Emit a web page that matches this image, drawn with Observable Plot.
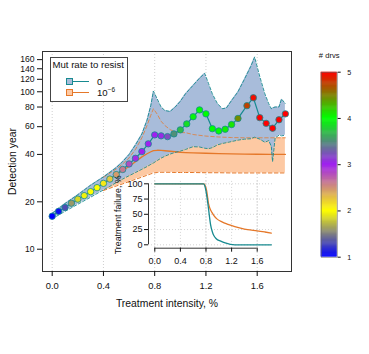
<!DOCTYPE html>
<html><head><meta charset="utf-8">
<script src="https://cdn.jsdelivr.net/npm/d3@7"></script>
<script src="https://cdn.jsdelivr.net/npm/@observablehq/plot@0.6"></script>
<style>
body{margin:0;background:#fff;}
#wrap{position:relative;width:369px;height:354px;font-family:"Liberation Sans",Arial,Helvetica,sans-serif;color:#111;}
#wrap svg{position:absolute;left:0;top:0;}
.a{position:absolute;white-space:nowrap;line-height:12px;}
</style></head><body><div id="wrap"></div>
<script>
// ---------- data ----------
const dotX = [0,0.05,0.1,0.15,0.2,0.25,0.3,0.35,0.4,0.45,0.5,0.55,0.6,0.65,0.7,0.75,0.8,0.85,0.9,0.95,1.0,1.05,1.1,1.15,1.2,1.25,1.3,1.35,1.4,1.45,1.52,1.57,1.62,1.67,1.72,1.77,1.82];
const dotYear = [16.2,17.4,18.4,19.6,20.8,21.9,23.2,24.6,26.2,27.9,29.8,32.1,34.8,37.8,41.7,46.7,53.2,52.5,51.9,54,57.3,62.5,69.4,76.7,72.4,58.3,56.4,57.8,61.9,67.7,81.6,91.6,68.5,63,58.7,66.4,72.4];
const dotDrvs = [1.0,1.05,1.3,1.6,1.85,1.95,2.0,2.0,2.1,2.25,2.45,2.6,2.8,2.95,3.0,3.0,3.0,3.05,3.2,3.5,3.7,3.85,3.95,4.0,4.0,4.0,4.0,4.05,4.1,4.45,4.75,4.95,5,5,5,5,5];

const blueX  = [0,0.1,0.2,0.3,0.4,0.45,0.5,0.55,0.6,0.65,0.7,0.74,0.77,0.79,0.82,0.85,0.88,0.92,0.96,1.0,1.04,1.1,1.15,1.19,1.22,1.25,1.29,1.33,1.36,1.4,1.45,1.5,1.55,1.58,1.62,1.66,1.69,1.71,1.72,1.74,1.77,1.79,1.82];
const blueHi = [16.9,19.5,22.2,25.5,28.8,30.8,33,36,40,46,54,66,82,101,90,80,76,75,80,87,97,110,122,131,113,97,84,78,79,88,100,120,145,166,125,97,84,78,79,80,80,90,84];
const blueLo = [15.6,17.4,19.3,21.4,23.8,25.1,26.5,27.9,29.3,30.7,32.2,33.5,34.6,35.3,36.6,37.9,39,40.2,41.2,42,43,44.8,44.6,43.8,43.5,44.2,46,47,47.5,48.3,49.3,50,50.3,51.5,50,47.8,49,45,36,51,53,52.5,53];

const orangeX   = [0.4,0.45,0.5,0.55,0.6,0.65,0.7,0.74,0.77,0.79,0.82,0.85,0.88,0.92,0.96,1.0,1.04,1.1,1.2,1.3,1.4,1.5,1.6,1.7,1.82];
const orangeHi  = [28.6,30.4,32.3,34.8,38,43,51,61,71,78,72,65,61,57.5,55.5,55,55,53.5,52.3,51.6,51.2,51,51,51,51];
const orangeLo  = [23.6,24.4,25.2,26,26.9,27.8,28.7,29.5,30.1,30.5,30.7,30.8,30.8,30.8,30.7,30.7,30.7,30.7,30.6,30.6,30.5,30.5,30.5,30.5,30.5];
const orangeMed = [26.2,27.9,29.8,31.6,33.5,36,38.6,40.4,41.6,42.3,42.5,42.4,42.2,41.9,41.6,41.3,41.1,40.9,40.7,40.5,40.3,40.2,40.1,40.0,40.0];

const failTealX = [0,0.76,0.78,0.8,0.83,0.85,0.87,0.9,0.92,0.96,1.03,1.1,1.18,1.25,1.82];
const failTealY = [100,100,97,88,67,50,34,21,15.5,10,6,3,0.8,0,0];
const failOrangeX = [0,0.77,0.79,0.81,0.84,0.86,0.89,0.93,0.97,1.05,1.13,1.25,1.34,1.45,1.6,1.72,1.82];
const failOrangeY = [100,100,96,89,67,60,53.5,47,42.5,37.5,34,30,27.5,25,23,21,19.2];

const xTicks = [0,0.4,0.8,1.2,1.6];
const yTicks = [10,20,40,60,80,100,120,140,160];
const insetXTicks = [0,0.4,0.8,1.2,1.6];
const insetYTicks = [0,25,50,75,100];
const drvsTicks = [1,2,3,4,5];
const drvsColors = ["#0000ff","#ffff00","#a020f0","#00ff00","#ff0000"];

const xTitle = "Treatment intensity, %";
const yTitle = "Detection year";
const insetYTitle = "Treatment failure, %";
const cbTitle = "# drvs";
const legendTitle = "Mut rate to resist";
const legendLabels = ["0", "10"];

// ---------- styles ----------
const teal = "#178a90", orange = "#e5782a";
const blueFill = "#a8bcda", orangeFill = "#fdc9a3";
const font = '"Liberation Sans",Arial,Helvetica,sans-serif';
const baseStyle = {background: "none", fontFamily: font, fontSize: "9.4px", color: "#111", overflow: "visible"};
const colorScale = {type: "linear", domain: drvsTicks, range: drvsColors, interpolate: "rgb"};

const dots = dotX.map((x, i) => ({x, y: dotYear[i], drvs: dotDrvs[i]}));
const blue = blueX.map((x, i) => ({x, hi: blueHi[i], lo: blueLo[i]}));
const orng = orangeX.map((x, i) => ({x, hi: orangeHi[i], lo: orangeLo[i], med: orangeMed[i]}));
const failT = failTealX.map((x, i) => ({x, y: failTealY[i]}));
const failO = failOrangeX.map((x, i) => ({x, y: failOrangeY[i]}));

const wrap = document.getElementById("wrap");

// ---------- main plot ----------
const main = Plot.plot({
  width: 369, height: 354,
  marginLeft: 42, marginRight: 78, marginTop: 51, marginBottom: 83,
  style: baseStyle,
  x: {domain: [-0.0757, 1.8677]},
  y: {type: "log", domain: [7.218, 180.2]},
  color: colorScale,
  marks: [
    Plot.ruleX(xTicks, {stroke: "#cfcfcf", strokeDasharray: "1,2"}),
    Plot.areaY(orng, {x: "x", y1: "lo", y2: "hi", fill: orangeFill}),
    Plot.areaY(blue, {x: "x", y1: "lo", y2: "hi", fill: blueFill}),
    Plot.line(orng, {x: "x", y: "hi", stroke: orange, strokeOpacity: 0.75, strokeWidth: 1, strokeDasharray: "3.5,2.5"}),
    Plot.line(orng, {x: "x", y: "lo", stroke: orange, strokeWidth: 1, strokeDasharray: "3.5,2.5"}),
    Plot.line(orng, {x: "x", y: "med", stroke: orange, strokeWidth: 1.3}),
    Plot.line(blue, {x: "x", y: "hi", stroke: teal, strokeWidth: 0.9, strokeDasharray: "3,2"}),
    Plot.line(blue, {x: "x", y: "lo", stroke: teal, strokeWidth: 0.9, strokeDasharray: "3,2"}),
    Plot.line(dots, {x: "x", y: "y", stroke: teal, strokeWidth: 1.2}),
    Plot.dot(dots, {x: "x", y: "y", fill: "drvs", stroke: teal, strokeWidth: 0.8, r: 3.2}),
    Plot.frame({stroke: "#333", strokeWidth: 1}),
    Plot.axisX({ticks: xTicks, tickFormat: d => d.toFixed(1), tickSize: 5, tickPadding: 6, label: null}),
    Plot.axisY({ticks: yTicks, tickFormat: d => String(d), tickSize: 5, tickPadding: 3, fontSize: 8.6, label: null}),
    Plot.text([xTitle], {text: d => d, frameAnchor: "bottom", dy: 32, textAnchor: "middle", lineAnchor: "middle", fontSize: 10.4}),
    Plot.text([yTitle], {text: d => d, frameAnchor: "left", dx: -30, rotate: -90, textAnchor: "middle", lineAnchor: "middle", fontSize: 10.4})
  ]
});
wrap.appendChild(main);

// ---------- inset ----------
const insetXDomain = [-0.0984, 1.8703];
const insetYDomain = [-5.57, 103.93];
const inset = Plot.plot({
  width: 369, height: 354,
  marginLeft: 148, marginRight: 95, marginTop: 180.9, marginBottom: 106.3,
  style: {...baseStyle, fontSize: "9px"},
  x: {domain: insetXDomain},
  y: {domain: insetYDomain},
  marks: [
    Plot.ruleX(insetXTicks, {stroke: "#d4d4d4", strokeDasharray: "1,2"}),
    Plot.ruleY(insetYTicks, {stroke: "#d4d4d4", strokeDasharray: "1,2"}),
    Plot.line(failO, {x: "x", y: "y", stroke: orange, strokeWidth: 1.3, curve: "monotone-x"}),
    Plot.line(failT, {x: "x", y: "y", stroke: teal, strokeWidth: 1.3, curve: "monotone-x"}),
    Plot.ruleX([insetXDomain[0]], {y1: insetYTicks[0], y2: insetYTicks[insetYTicks.length - 1], stroke: "#333"}),
    Plot.ruleY([insetYDomain[0]], {x1: insetXTicks[0], x2: insetXTicks[insetXTicks.length - 1], stroke: "#333"}),
    Plot.axisX({ticks: insetXTicks, tickFormat: d => d.toFixed(1), tickSize: 4, tickPadding: 5, label: null}),
    Plot.axisY({ticks: insetYTicks, tickFormat: d => String(d), tickSize: 4, tickPadding: 2, label: null}),
    Plot.text([insetYTitle], {text: d => d, frameAnchor: "left", dx: -30, rotate: -90, textAnchor: "middle", lineAnchor: "middle", fontSize: 8.8})
  ]
});
wrap.appendChild(inset);

// ---------- colour bar ----------
const rampStep = 0.02;
const ramp = d3.range(drvsTicks[0], drvsTicks[drvsTicks.length - 1], rampStep);
const cb = Plot.plot({
  width: 369, height: 354,
  marginLeft: 320.7, marginRight: 32.3, marginTop: 71.7, marginBottom: 97.3,
  style: {...baseStyle, fontSize: "7.2px"},
  y: {domain: [drvsTicks[0], drvsTicks[drvsTicks.length - 1]]},
  color: colorScale,
  marks: [
    Plot.rect(ramp, {y1: d => d, y2: d => Math.min(d + rampStep * 1.6, 5), fill: d => d + rampStep / 2}),
    Plot.frame({stroke: "#666", strokeWidth: 0.6}),
    Plot.axisY({anchor: "right", ticks: drvsTicks, tickFormat: d => String(d), tickSize: 3, tickPadding: 7, label: null}),
    Plot.text([cbTitle], {text: d => d, frameAnchor: "top", dy: -17, textAnchor: "middle", lineAnchor: "middle", fontSize: 7.6})
  ]
});
wrap.appendChild(cb);

// ---------- legend (mutation rate) ----------
function el(style, html) {
  const d = document.createElement("div");
  d.className = "a";
  Object.assign(d.style, style);
  if (html != null) d.innerHTML = html;
  wrap.appendChild(d);
  return d;
}
el({left: "50px", top: "57px", width: "78px", height: "45px", boxSizing: "border-box", border: "1px solid #444", background: "#fff"});
el({left: "52.5px", top: "59px", fontSize: "9.6px"}, legendTitle);
// row 1
el({left: "73px", top: "81.1px", width: "16px", height: "1.3px", background: teal});
el({left: "65.7px", top: "78px", width: "7.8px", height: "7.4px", boxSizing: "border-box", border: "1px solid " + teal, background: blueFill});
el({left: "97px", top: "75.7px", fontSize: "9.6px"}, legendLabels[0]);
// row 2
el({left: "73px", top: "91.7px", width: "16px", height: "1.3px", background: orange});
el({left: "65.7px", top: "88.7px", width: "7.8px", height: "7.4px", boxSizing: "border-box", border: "1px solid " + orange, background: orangeFill});
el({left: "97px", top: "86.5px", fontSize: "9.6px"}, legendLabels[1] + '<span style="font-size:6.5px;position:relative;top:-4px;">\u22126</span>');
</script></body></html>
